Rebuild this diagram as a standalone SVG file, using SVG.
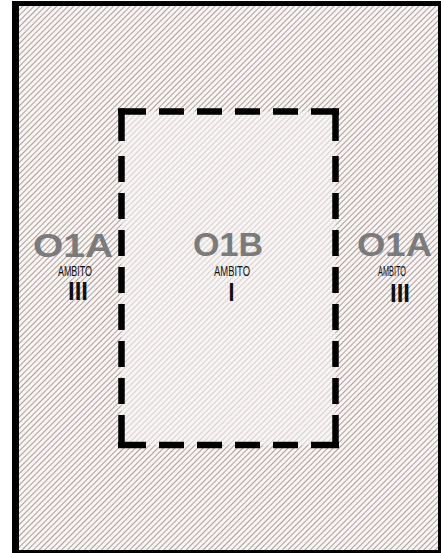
<svg xmlns="http://www.w3.org/2000/svg" width="441" height="553" viewBox="0 0 441 553">
<style>
.zone{font-family:"Liberation Sans",Arial,sans-serif;font-weight:bold;fill:#7b7b7b;font-size:34px;text-anchor:middle}
.amb{font-family:"Liberation Sans",Arial,sans-serif;fill:#111;font-size:14px;text-anchor:middle}
.num{font-family:"Liberation Sans",Arial,sans-serif;font-weight:bold;fill:#111;font-size:26px;text-anchor:middle}
.dash{fill:none;stroke:#000;stroke-width:6.5}
</style>
<defs>
<pattern id="hatch" patternUnits="userSpaceOnUse" width="4" height="4" patternTransform="rotate(45)">
<rect width="4" height="4" fill="#faf4f3"/>
<rect x="0" y="0" width="0.9" height="4" fill="#a09696"/>
</pattern>
<pattern id="hatchLight" patternUnits="userSpaceOnUse" width="4" height="4" patternTransform="rotate(45)">
<rect width="4" height="4" fill="#f8f4f4"/>
<rect x="0" y="0" width="0.9" height="4" fill="#d2cccc"/>
</pattern>
</defs>
<g id="frame">
<rect x="12" y="1" width="429" height="552" fill="#000"/>
<rect x="19" y="6" width="419" height="544" fill="url(#hatch)"/>
</g>
<g id="zone-O1B-area">
<rect x="121.5" y="111.5" width="214" height="333.5" fill="url(#hatchLight)"/>
</g>
<g id="connectors">
<line class="dash" x1="118" y1="111.5" x2="339" y2="111.5" stroke-dasharray="28 13 25 13 25 13 25 13 25 13 28"/>
<line class="dash" x1="118" y1="445" x2="339" y2="445" stroke-dasharray="28 13 25 13 25 13 25 13 25 13 28"/>
<line class="dash" x1="121.5" y1="108.5" x2="121.5" y2="448" stroke-dasharray="32.5 15 26 11 26 11 26 11 26 11 26 11 26 11 26 11 33"/>
<line class="dash" x1="335.5" y1="108.5" x2="335.5" y2="448" stroke-dasharray="32.5 15 26 11 26 11 26 11 26 11 26 11 26 11 26 11 33"/>
</g>
<g id="node-left">
<text class="zone" x="73" y="257" textLength="80" lengthAdjust="spacingAndGlyphs">O1A</text>
<text class="amb" x="75" y="276" textLength="34" lengthAdjust="spacingAndGlyphs">AMBITO</text>
<text class="num" x="78" y="300" textLength="20" lengthAdjust="spacingAndGlyphs">III</text>
</g>
<g id="node-center">
<text class="zone" x="228" y="256" textLength="70" lengthAdjust="spacingAndGlyphs">O1B</text>
<text class="amb" x="232" y="276" textLength="36" lengthAdjust="spacingAndGlyphs">AMBITO</text>
<text class="num" x="231.5" y="301" textLength="6" lengthAdjust="spacingAndGlyphs">I</text>
</g>
<g id="node-right">
<text class="zone" x="394.5" y="256" textLength="75" lengthAdjust="spacingAndGlyphs">O1A</text>
<text class="amb" x="392" y="276" textLength="28" lengthAdjust="spacingAndGlyphs">AMBITO</text>
<text class="num" x="400" y="302" textLength="20" lengthAdjust="spacingAndGlyphs">III</text>
</g>
</svg>
